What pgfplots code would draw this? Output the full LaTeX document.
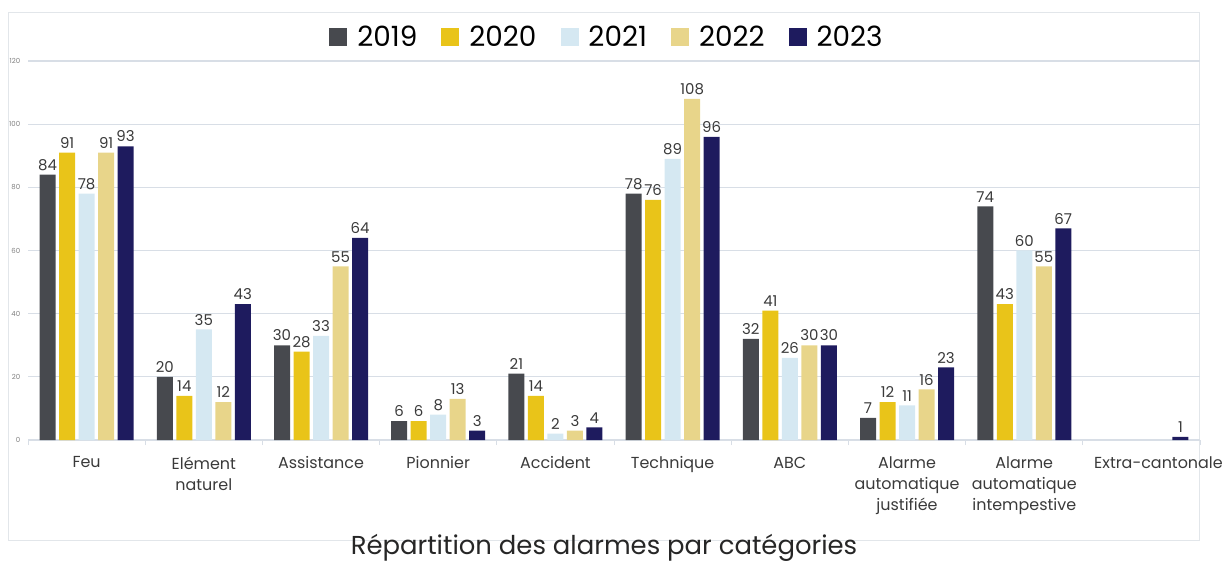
\documentclass[border=0pt]{standalone}
\usepackage{pgfplots}
\pgfplotsset{compat=1.18}
\usepackage{fontspec}
\setmainfont{Poppins}
\definecolor{c19}{HTML}{47494E}
\definecolor{c20}{HTML}{E9C419}
\definecolor{c21}{HTML}{D5E8F2}
\definecolor{c22}{HTML}{E8D58A}
\definecolor{c23}{HTML}{1E1B5E}
\definecolor{framec}{HTML}{E2E6EA}
\definecolor{gridc}{HTML}{D8DEE6}
\definecolor{labc}{HTML}{3A3A3A}
\begin{document}
\begin{tikzpicture}
\useasboundingbox (-28bp,-123bp) rectangle (1196bp,440bp);
\draw[color=framec, line width=0.8bp] (-20bp,-100bp) rectangle (1171bp,428bp);
\begin{axis}[
  at={(0,0)}, anchor=south west,
  scale only axis, width=1172bp, height=379bp,
  xmin=-0.5, xmax=9.5, ymin=0, ymax=120,
  ybar=3.5bp, bar width=16bp,
  axis x line*=bottom, axis y line*=left,
  y axis line style={draw=none},
  x axis line style={draw=gridc, line width=1bp, -},
  xtick={0,...,9},
  xticklabels={Feu, {Elément\\naturel}, Assistance, Pionnier, Accident, Technique, ABC, {Alarme\\automatique\\justifiée}, {Alarme\\automatique\\intempestive}, {\hspace*{34bp}Extra-cantonale}},
  minor xtick={-0.5,0.5,...,9.5},
  tick align=outside,
  major x tick style={draw=none},
  minor x tick style={draw=gridc, line width=0.8bp},
  minor tick length=5bp,
  ytick={0,20,...,120},
  major y tick style={draw=none},
  ymajorgrids, grid style={color=gridc, line width=1.2bp},
  yticklabel style={font=\fontsize{7}{8}\selectfont, color=gray},
  /pgf/number format/assume math mode=true,
  xticklabel style={align=center, font=\fontsize{16}{21}\selectfont, color=labc, yshift=-9bp},
  nodes near coords,
  every node near coord/.append style={font=\fontsize{15}{16}\selectfont, color=labc, inner sep=2bp, yshift=2bp},
  legend style={at={(0.494,1.063)}, anchor=center, draw=none, fill=none, legend columns=5,
    font=\fontsize{28}{30}\selectfont,
    /tikz/every odd column/.append style={column sep=8bp},
    /tikz/every even column/.append style={column sep=22bp}},
  legend image code/.code={\fill[#1] (0bp,-9bp) rectangle (18bp,9bp);},
]
\addplot[fill=c19, draw=none] coordinates {(0,84) (1,20) (2,30) (3,6) (4,21) (5,78) (6,32) (7,7) (8,74)};
\addplot[fill=c20, draw=none] coordinates {(0,91) (1,14) (2,28) (3,6) (4,14) (5,76) (6,41) (7,12) (8,43)};
\addplot[fill=c21, draw=none] coordinates {(0,78) (1,35) (2,33) (3,8) (4,2) (5,89) (6,26) (7,11) (8,60)};
\addplot[fill=c22, draw=none] coordinates {(0,91) (1,12) (2,55) (3,13) (4,3) (5,108) (6,30) (7,16) (8,55)};
\addplot[fill=c23, draw=none] coordinates {(0,93) (1,43) (2,64) (3,3) (4,4) (5,96) (6,30) (7,23) (8,67) (9,1)};
\legend{2019,2020,2021,2022,2023}
\end{axis}
\node[font=\fontsize{26}{28}\selectfont, color=black!85] at (576bp,-108bp) {Répartition des alarmes par catégories};
\end{tikzpicture}
\end{document}
